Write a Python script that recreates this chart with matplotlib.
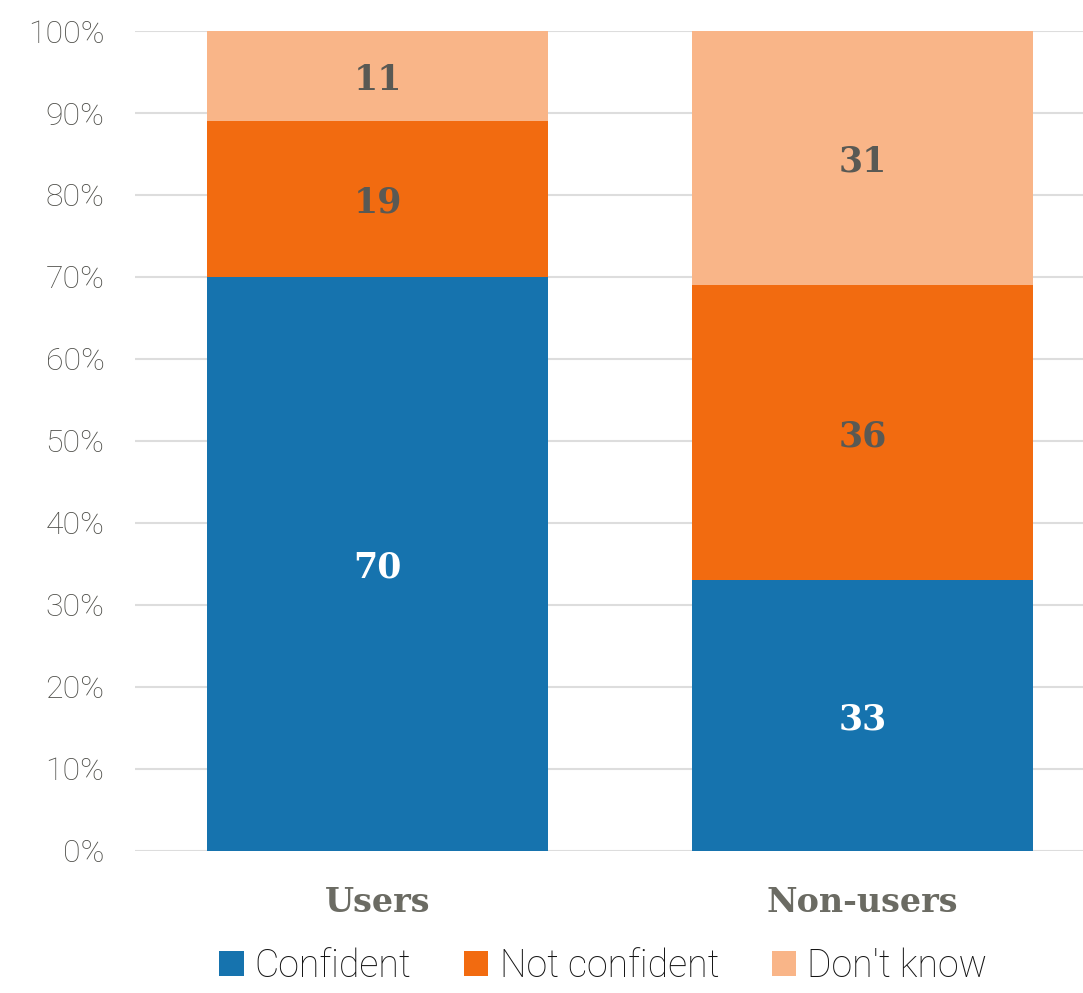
import matplotlib
matplotlib.use("Agg")
import matplotlib.pyplot as plt
from matplotlib.patches import Patch

categories = ["Users", "Non-users"]
series_names = ["Confident", "Not confident", "Don't know"]
confident = [70, 33]
not_confident = [19, 36]
dont_know = [11, 31]
yticks = [0, 10, 20, 30, 40, 50, 60, 70, 80, 90, 100]

colors = ["#1673ae", "#f26b10", "#f9b588"]
label_colors = ["white", "#595954", "#595954"]

fig = plt.figure(figsize=(10.83, 9.93), dpi=100)
ax = fig.add_axes([135/1083, 142/993, 948/1083, 820/993])

x = list(range(len(categories)))
bottoms = [0] * len(categories)
for vals, col, lc in zip([confident, not_confident, dont_know], colors, label_colors):
    ax.bar(x, vals, bottom=bottoms, width=0.703, color=col, zorder=3)
    for xi, v, b in zip(x, vals, bottoms):
        ax.text(xi, b + v / 2, str(v), ha="center", va="center_baseline", color=lc,
                fontsize=25, fontweight="bold", family="DejaVu Serif", zorder=4)
    bottoms = [b + v for b, v in zip(bottoms, vals)]

ax.set_xlim(-0.5, 1.4546)
ax.set_ylim(0, 100)
ax.set_yticks(yticks)
ax.set_yticklabels([f"{t}%" for t in yticks], family="Roboto", fontweight="light",
                   fontsize=23, color="#4f4f4a")
ax.set_xticks(x)
ax.set_xticklabels(categories, family="DejaVu Serif", fontweight="bold", fontsize=24,
                   color="#6b6b63")
ax.tick_params(axis="both", length=0)
ax.tick_params(axis="y", pad=22)
ax.tick_params(axis="x", pad=25)
ax.yaxis.grid(True, color="#dddddd", linewidth=1.5, zorder=0)
for s in ax.spines.values():
    s.set_visible(False)

handles = [Patch(facecolor=c, edgecolor="none") for c in colors]
fig.legend(handles, series_names, loc="lower center", bbox_to_anchor=(0.557, -0.026),
           ncol=3, frameon=False, prop={"family": "Roboto", "weight": "light", "size": 27},
           handlelength=0.65, handleheight=0.65, handletextpad=0.3, columnspacing=1.4,
           labelcolor="#151515")

fig.savefig("out.png", dpi=100)
